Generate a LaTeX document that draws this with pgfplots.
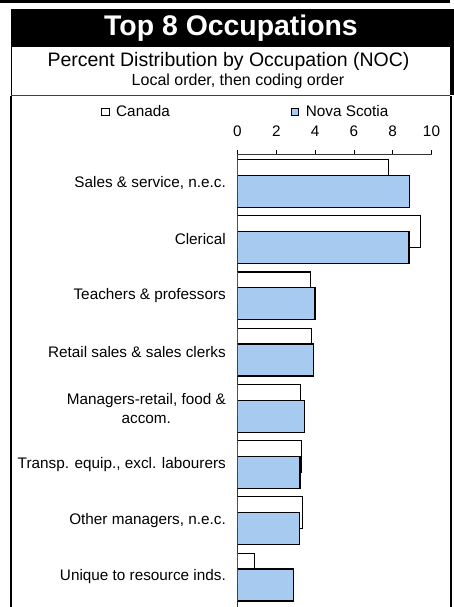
\documentclass[border=0pt]{standalone}
\usepackage{fontspec}
\setmainfont{Liberation Sans}
\usepackage{pgfplots}
\pgfplotsset{compat=1.18}
\definecolor{nsblue}{HTML}{A6CAF0}
\begin{document}
\begin{tikzpicture}
\useasboundingbox (0,0) rectangle (454pt,-607pt);
% frames
\fill[black] (0,0) rectangle (450pt,-3pt);
\fill[black] (11pt,-9pt) rectangle (454pt,-47pt);
\fill[black] (450pt,-47pt) rectangle (454pt,-95pt);
\draw[black, line width=1.3pt] (11.6pt,-47pt) -- (11.6pt,-95pt);
\draw[black!75, line width=1pt] (10.5pt,-96pt) -- (450pt,-96pt);
\draw[black, line width=1.5pt] (11pt,-96pt) -- (11pt,-607pt);
\draw[black, line width=2pt] (450.5pt,-96pt) -- (450.5pt,-607pt);
% titles
\node[anchor=base, text=white, font=\fontsize{28.4}{30}\selectfont\bfseries, inner sep=0pt] at (231pt,-35.5pt) {Top 8 Occupations};
\node[anchor=base, font=\fontsize{19.5}{22}\selectfont, inner sep=0pt] at (228.5pt,-66.7pt) {Percent Distribution by Occupation (NOC)};
\node[anchor=base, font=\fontsize{16}{18}\selectfont, inner sep=0pt] at (238pt,-86pt) {Local order, then coding order};
\begin{axis}[
  at={(237.5pt,-154pt)}, anchor=north west,
  scale only axis, width=194pt, height=452.7pt,
  xbar, bar width=32pt,
  xmin=0, xmax=10, ymin=-0.53, ymax=7.52,
  axis x line=top, axis y line=left,
  axis line style={-, black!80, line width=0.8pt},
  xtick={0,2,4,6,8,10},
  tick align=outside, major tick length=4pt,
  x tick style={black, line width=0.8pt},
  ytick={0,1,2,3,4,5,6,7},
  y tick style={draw=none},
  yticklabels={{Unique to resource inds.},{Other managers, n.e.c.},{Transp. equip., excl. labourers},{Managers-retail, food \&\\accom.},{Retail sales \& sales clerks},{Teachers \& professors},{Clerical},{Sales \& service, n.e.c.}},
  yticklabel style={font=\fontsize{15.3}{19}\selectfont, align=center, anchor=east, inner sep=0pt, xshift=-7.5pt},
  xticklabel style={font=\fontsize{15.3}{18}\selectfont, anchor=base, inner sep=0pt, yshift=13pt},
  /pgf/number format/assume math mode=true,
  legend columns=2,
  legend style={at={(-0.7036,1.0928)}, anchor=west, draw=none, fill=none, inner sep=0pt, outer sep=0pt,
    font=\fontsize{15.3}{18}\selectfont,
    nodes={inner sep=0pt},
    /tikz/every odd column/.append style={column sep=6.5pt},
    /tikz/every even column/.append style={column sep=120.9pt}},
  legend image code/.code={\draw[#1, line width=0.9pt] (0pt,-3.9pt) rectangle (7.8pt,3.9pt);},
]
\addplot[draw=black, fill=white, line width=1.2pt, bar shift=7.8pt]
  coordinates {(0.87,0) (3.34,1) (3.28,2) (3.23,3) (3.82,4) (3.75,5) (9.43,6) (7.80,7)};
\addplot[draw=black, fill=nsblue, line width=1.2pt, bar shift=-8pt]
  coordinates {(2.89,0) (3.20,1) (3.22,2) (3.46,3) (3.92,4) (3.99,5) (8.84,6) (8.86,7)};
\legend{Canada, Nova Scotia}
\end{axis}
\end{tikzpicture}
\end{document}
